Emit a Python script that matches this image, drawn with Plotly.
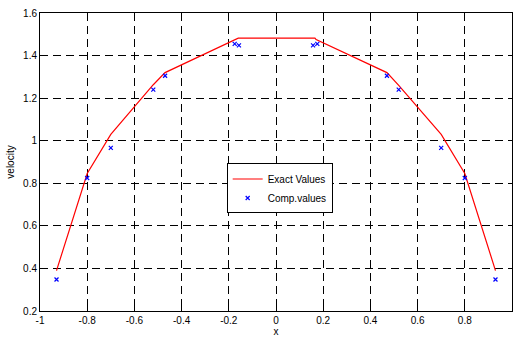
import plotly.graph_objects as go

# Exact solution (red line)
x_exact = [-0.93, -0.8, -0.7, -0.52, -0.47, -0.17, -0.16, 0.165, 0.17, 0.47, 0.52, 0.7, 0.8, 0.93]
y_exact = [0.39, 0.846, 1.03, 1.263, 1.32, 1.475, 1.482, 1.482, 1.475, 1.32, 1.26, 1.03, 0.846, 0.39]

# Computed values (blue x markers)
x_comp = [-0.93, -0.8, -0.7, -0.52, -0.47, -0.175, -0.157, 0.157, 0.175, 0.47, 0.52, 0.7, 0.8, 0.93]
y_comp = [0.348, 0.825, 0.966, 1.24, 1.305, 1.455, 1.448, 1.448, 1.455, 1.305, 1.24, 0.966, 0.825, 0.348]

x_ticks = [-1, -0.8, -0.6, -0.4, -0.2, 0, 0.2, 0.4, 0.6, 0.8, 1]
x_labels = ["-1", "-0.8", "-0.6", "-0.4", "-0.2", "0", "0.2", "0.4", "0.6", "0.8", "1"]
y_ticks = [0.2, 0.4, 0.6, 0.8, 1.0, 1.2, 1.4, 1.6]
y_labels = ["0.2", "0.4", "0.6", "0.8", "1", "1.2", "1.4", "1.6"]

fig = go.Figure()
fig.add_trace(go.Scatter(x=x_exact, y=y_exact, mode="lines", name="Exact Values",
                         line=dict(color="red", width=1.2)))
fig.add_trace(go.Scatter(x=x_comp, y=y_comp, mode="markers", name="Comp.values",
                         marker=dict(symbol="x-thin", size=4, color="blue",
                                     line=dict(color="blue", width=1.2))))

axis_common = dict(showline=True, linecolor="black", linewidth=1, mirror="ticks",
                   ticks="inside", ticklen=4, tickcolor="black",
                   showgrid=True, gridcolor="black", gridwidth=1, griddash="8px,5px",
                   zeroline=False, tickfont=dict(size=10, color="black"))

fig.update_xaxes(range=[-1, 1], tickvals=x_ticks, ticktext=x_labels,
                 title=dict(text="x", font=dict(size=10, color="black"), standoff=4),
                 **axis_common)
fig.update_yaxes(range=[0.2, 1.6], tickvals=y_ticks, ticktext=y_labels,
                 title=dict(text="velocity", font=dict(size=10, color="black"), standoff=6),
                 **axis_common)

fig.update_layout(
    width=513, height=337,
    margin=dict(l=40, r=1, t=13, b=26, autoexpand=False),
    paper_bgcolor="white", plot_bgcolor="white",
    font=dict(family="Liberation Sans, Arial, sans-serif", size=10, color="black"),
    legend=dict(x=0.3955, y=0.495, xanchor="left", yanchor="top",
                bordercolor="black", borderwidth=1, bgcolor="white",
                font=dict(size=10), tracegroupgap=0),
    showlegend=True,
)

fig.write_html("out.html", config={"displayModeBar": False},
               post_script="document.body.style.margin='0';document.body.style.overflow='hidden';")
